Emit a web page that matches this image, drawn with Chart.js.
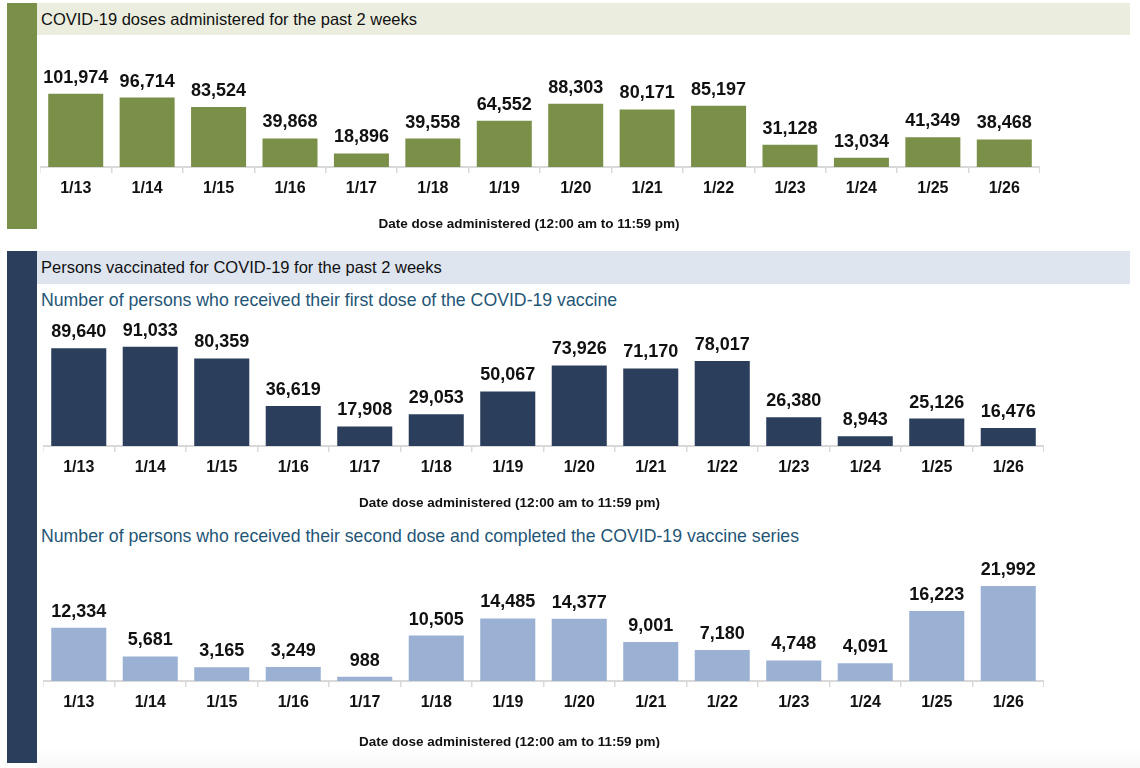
<!DOCTYPE html>
<html>
<head>
<meta charset="utf-8">
<script src="https://cdn.jsdelivr.net/npm/chart.js@4.4.1/dist/chart.umd.min.js"></script>
<style>
	body { margin: 0; width: 1140px; height: 768px; position: relative; background: #fff; overflow: hidden; font-family: "Liberation Sans", Arial, sans-serif; }
	.abs { position: absolute; }
	.band { position: absolute; left: 37px; width: 1093px; font-size: 16.5px; color: #111; box-sizing: border-box; padding-left: 4px; }
	.sub { position: absolute; left: 41px; font-size: 17.7px; color: #1f5676; white-space: nowrap; }
	canvas { position: absolute; }
</style>
</head>
<body>
<div class="abs" style="left:7px;top:3px;width:30px;height:226px;background:#7a8f47"></div>
<div class="band" style="top:3px;height:32px;line-height:32px;background:#ebeedf">COVID-19 doses administered for the past 2 weeks</div>
<canvas id="dosesChart" width="1000" height="196" style="left:40px;top:40px"></canvas>

<div class="abs" style="left:7px;top:251px;width:30px;height:512px;background:#2b3f5c"></div>
<div class="band" style="top:251px;height:33px;line-height:33px;background:#dee5ef">Persons vaccinated for COVID-19 for the past 2 weeks</div>
<div class="sub" style="top:290px">Number of persons who received their first dose of the COVID-19 vaccine</div>
<canvas id="firstChart" width="1001" height="195" style="left:43px;top:320px"></canvas>

<div class="sub" style="top:526px">Number of persons who received their second dose and completed the COVID-19 vaccine series</div>
<canvas id="secondChart" width="1001" height="194" style="left:43px;top:560px"></canvas>
<div class="abs" style="left:37px;top:748px;width:1103px;height:20px;background:linear-gradient(#ffffff,#f7f7f7)"></div>

<script>
const dates = ['1/13', '1/14', '1/15', '1/16', '1/17', '1/18', '1/19', '1/20', '1/21', '1/22', '1/23', '1/24', '1/25', '1/26'];
const dosesAdministered = [101974, 96714, 83524, 39868, 18896, 39558, 64552, 88303, 80171, 85197, 31128, 13034, 41349, 38468];
const firstDose = [89640, 91033, 80359, 36619, 17908, 29053, 50067, 73926, 71170, 78017, 26380, 8943, 25126, 16476];
const secondDose = [12334, 5681, 3165, 3249, 988, 10505, 14485, 14377, 9001, 7180, 4748, 4091, 16223, 21992];
const axisTitle = 'Date dose administered (12:00 am to 11:59 pm)';

// number labels above each bar
const valueLabels = {
	id: 'valueLabels',
	afterDatasetsDraw(chart) {
		const ctx = chart.ctx;
		const values = chart.data.datasets[0].data;
		ctx.save();
		ctx.font = 'bold 18px "Liberation Sans", Arial, sans-serif';
		ctx.fillStyle = '#111';
		ctx.textAlign = 'center';
		ctx.textBaseline = 'middle';
		chart.getDatasetMeta(0).data.forEach((bar, i) => {
			ctx.fillText(values[i].toLocaleString('en-US'), bar.x, bar.y - 16);
		});
		ctx.restore();
	},
};

// x axis caption, sits a little left of the axis centre like the original
const axisCaption = {
	id: 'axisCaption',
	afterDraw(chart, args, opts) {
		const ctx = chart.ctx;
		ctx.save();
		ctx.font = 'bold 13.5px "Liberation Sans", Arial, sans-serif';
		ctx.fillStyle = '#111';
		ctx.textAlign = 'center';
		ctx.textBaseline = 'middle';
		ctx.fillText(opts.text, opts.x, chart.height - 12);
		ctx.restore();
	},
};

function makeChart(id, values, color, yMax, axisHeight, captionX) {
	return new Chart(document.getElementById(id), {
		type: 'bar',
		data: {
			labels: dates,
			datasets: [{
				data: values,
				backgroundColor: color,
				categoryPercentage: 1,
				barPercentage: 0.77,
			}],
		},
		options: {
			responsive: false,
			animation: false,
			layout: { padding: 0 },
			plugins: {
				legend: { display: false },
				tooltip: { enabled: false },
				axisCaption: { text: axisTitle, x: captionX },
			},
			scales: {
				x: {
					grid: { drawOnChartArea: false, tickLength: 6, color: '#d9d9d9', lineWidth: 1.5 },
					border: { color: '#d9d9d9', width: 2 },
					ticks: {
						color: '#111',
						padding: 6,
						font: { family: '"Liberation Sans", Arial, sans-serif', size: 16, weight: 'bold' },
					},
					afterFit(scale) {
						scale.height = axisHeight;
					},
				},
				y: { display: false, min: 0, max: yMax },
			},
		},
		plugins: [valueLabels, axisCaption],
	});
}

makeChart('dosesChart', dosesAdministered, '#7a8f47', 177000, 69, 489);
makeChart('firstChart', firstDose, '#2b3f5c', 115600, 69, 466.5);
makeChart('secondChart', secondDose, '#9ab1d3', 28000, 73, 466.5);
</script>
</body>
</html>
